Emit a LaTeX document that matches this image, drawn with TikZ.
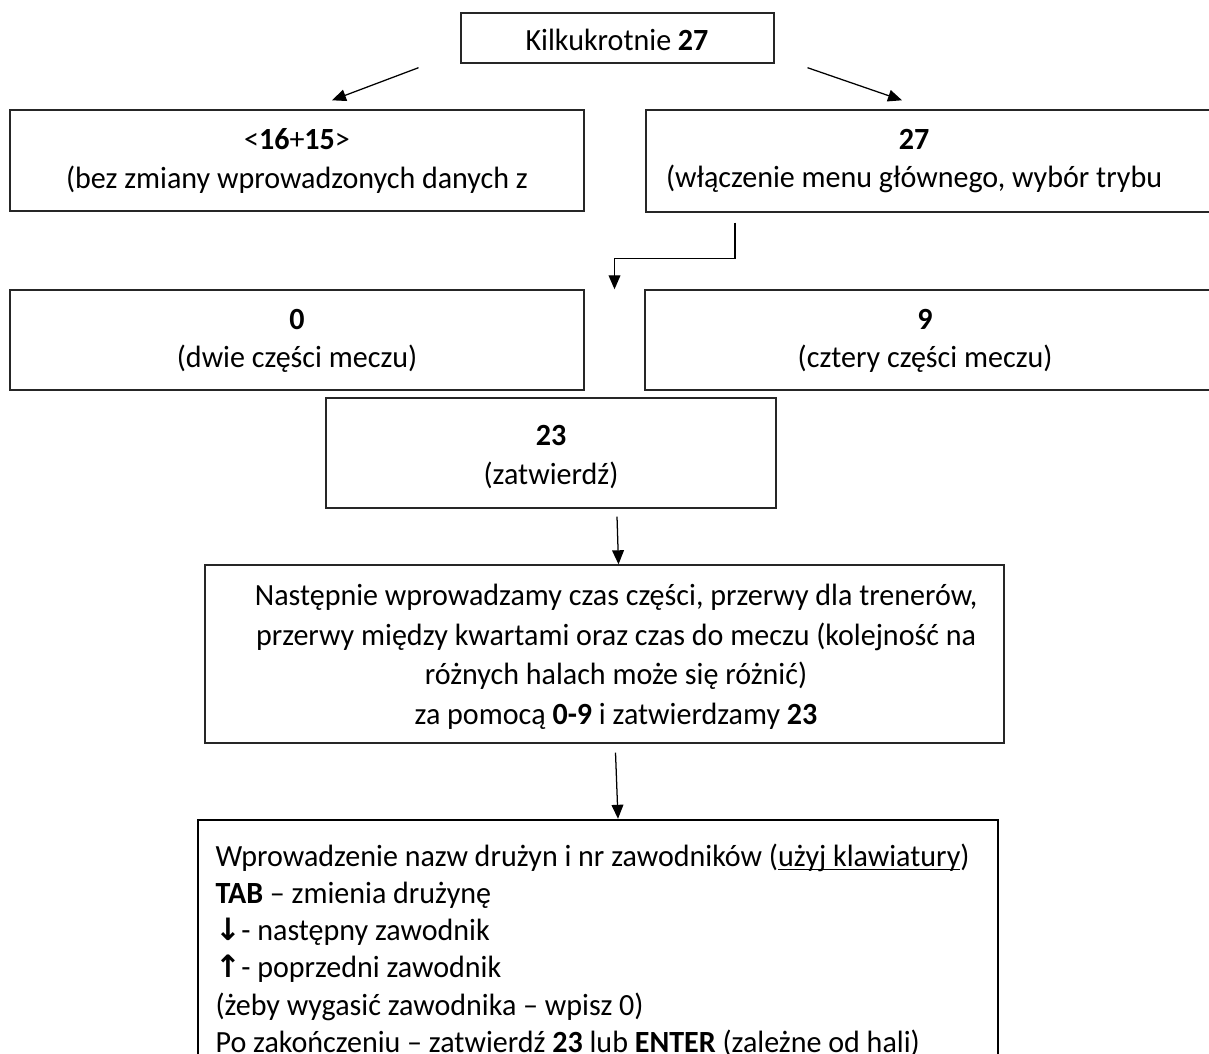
\documentclass[tikz,border=0pt]{standalone}
\usepackage{fontspec}
\setmainfont{Carlito}[FakeStretch=0.975]
\newfontfamily\arrowfont{DejaVu Sans}
\usetikzlibrary{arrows.meta,fit,calc}
\newcommand\myul[1]{\setbox0\hbox{#1}\rlap{\raisebox{-1.4pt}{\rule{\wd0}{0.45pt}}}\box0}
\begin{document}
\begin{tikzpicture}[x=0.357pt,y=-0.357pt,
  box/.style={draw=black!85, line width=0.5pt, inner sep=0pt},
  bigbox/.style={draw=black, line width=0.85pt, inner sep=0pt},
  txt/.style={align=center, inner sep=0pt, font=\fontsize{11}{13.6}\selectfont},
  ltxt/.style={align=left, inner sep=0pt, font=\fontsize{11}{13.3}\selectfont},
  conn/.style={line width=0.45pt, -{Triangle[length=5pt,width=4.2pt]}}]
\useasboundingbox (0,0) rectangle (1209,1053);
\clip (0,0) rectangle (1209,1053);
% boxes
\node[box, fit={(461,13) (774,63)}] (top) {};
\node[box, fit={(10,110) (584,211)}] (l2) {};
\node[box, fit={(646,110) (1230,212)}] (r2) {};
\node[box, fit={(10,290) (584,390)}] (l3) {};
\node[box, fit={(645,290) (1230,390)}] (r3) {};
\node[box, fit={(326,398) (776,508)}] (b23) {};
\node[box, fit={(205,565) (1004,743)}] (nast) {};
\node[bigbox, fit={(198,820) (998,1090)}] (last) {};
% texts
\node[txt] (toptxt) at (617,40) {Kilkukrotnie \textbf{27}};
\node[txt] (l2txt) at (297,161) {<\textbf{16}+\textbf{15}>\\(bez zmiany wprowadzonych danych z};
\node[txt] (r2txt) at (914,161) {\textbf{27}\\(włączenie menu głównego, wybór trybu};
\node[txt] (l3txt) at (297,341) {\textbf{0}\\(dwie części meczu)};
\node[txt] (r3txt) at (925,341) {\textbf{9}\\(cztery części meczu)};
\node[txt] (b23txt) at (551,457) {\textbf{23}\\(zatwierdź)};
\node[txt, font=\fontsize{11}{14.1}\selectfont] (nasttxt) at (616,657) {Następnie wprowadzamy czas części, przerwy dla trenerów,\\
przerwy między kwartami oraz czas do meczu (kolejność na\\
różnych halach może się różnić)\\
za pomocą \textbf{0-9} i zatwierdzamy \textbf{23}};
\node[ltxt, anchor=north west] (lasttxt) at (215,843) {Wprowadzenie nazw drużyn i nr zawodników (\myul{użyj klawiatury})\\
\textbf{TAB} – zmienia drużynę\\
{\arrowfont\bfseries ↓}- następny zawodnik\\
{\arrowfont\bfseries ↑}- poprzedni zawodnik\\
(żeby wygasić zawodnika – wpisz 0)\\
Po zakończeniu – zatwierdź \textbf{23} lub \textbf{ENTER} (zależne od hali)};
% connectors
\coordinate (gap) at ($(l3.north east)!0.5!(r3.north west)$);
\draw[conn] ($(top.south)+(-199,4)$) -- ($(l2.north)+(35,-9)$);
\draw[conn] ($(top.south)+(190,4)$) -- ($(r2.north)+(-36,-9)$);
\draw[conn] ($(r2.south)+(-203,10)$) -- ++(0,36) -| (gap);
\draw[conn] ($(b23.south)+(66,8)$) -- ($(nast.north)+(14,0)$);
\draw[conn] ($(nast.south)+(11,9)$) -- ($(last.north)+(20,0)$);
\end{tikzpicture}
\end{document}
